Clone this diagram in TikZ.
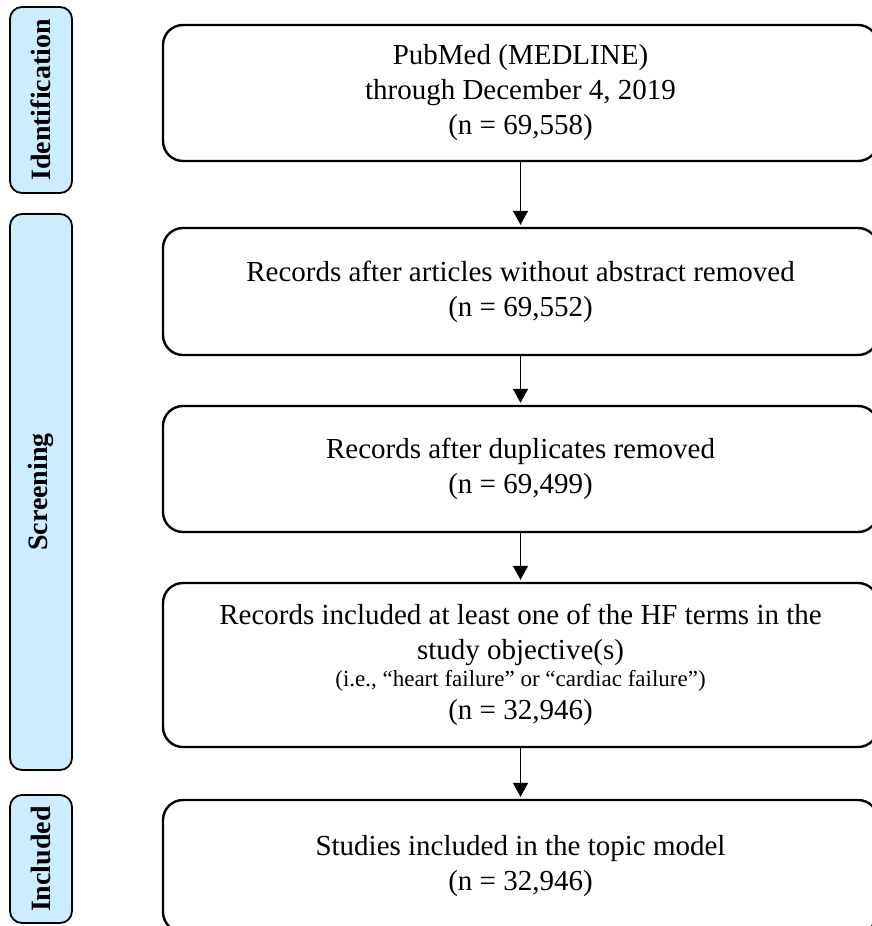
\documentclass[tikz,border=0pt]{standalone}
\usepackage{fontspec}
\setmainfont{Liberation Serif}
\usetikzlibrary{arrows.meta}
\definecolor{labfill}{RGB}{204,236,255}
\begin{document}
\begin{tikzpicture}[x=1pt,y=-1pt,
  mainbox/.style={draw, line width=2.4pt, rounded corners=20pt, minimum width=715pt,
    align=center, inner sep=0pt, font=\fontsize{29}{35}\selectfont},
  labbox/.style={draw, fill=labfill, line width=1.8pt, rounded corners=12pt,
    rotate=90, minimum height=62pt, inner sep=0pt,
    font=\bfseries\fontsize{28}{30}\selectfont},
  arr/.style={-{Triangle[length=14pt,width=15pt]}, line width=1.4pt, shorten >=2pt}
]
\useasboundingbox (0,0) rectangle (872,926);
\clip (0,0) rectangle (872,926);
\fill[white] (0,0) rectangle (872,926);

% stage labels
\node[labbox, minimum width=186pt] (lid) at (41,100) {Identification};
\node[labbox, minimum width=556pt] (lscr) at (41,492) {Screening};
\node[labbox, minimum width=128pt] (linc) at (41,859) {Included};

% main boxes
\node[mainbox, minimum height=136pt] (b1) at (520.5,93)
  {PubMed (MEDLINE)\\through December 4, 2019\\(n = 69,558)};
\node[mainbox, minimum height=127pt] (b2) at (520.5,291.5)
  {Records after articles without abstract removed\\(n = 69,552)};
\node[mainbox, minimum height=126pt] (b3) at (520.5,469)
  {Records after duplicates removed\\(n = 69,499)};
\node[mainbox, minimum height=164pt] (b4) at (520.5,665)
  {Records included at least one of the HF terms in the\\study objective(s)\\[-8pt]
   {\fontsize{23}{35}\selectfont (i.e., “heart failure” or “cardiac failure”)}\\[-2pt]
   (n = 32,946)};
\node[mainbox, minimum height=132pt] (b5) at (520.5,866)
  {Studies included in the topic model\\(n = 32,946)};

% connectors
\draw[arr] (b1.south) -- (b2.north);
\draw[arr] (b2.south) -- (b3.north);
\draw[arr] (b3.south) -- (b4.north);
\draw[arr] (b4.south) -- (b5.north);
\end{tikzpicture}
\end{document}
